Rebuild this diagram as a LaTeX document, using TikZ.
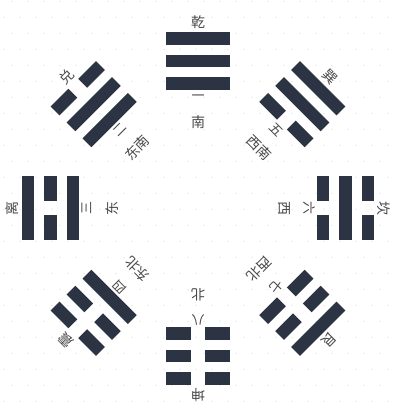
\documentclass[tikz,border=0pt]{standalone}
\usepackage{fontspec}
\newfontfamily\cjk{Noto Sans CJK SC}
\usetikzlibrary{positioning}
\definecolor{barcol}{RGB}{44,52,68}
\definecolor{inkcol}{RGB}{72,72,74}

% one trigram: id, angle, name, number, direction, inner/middle/outer line (1 yang, 0 yin)
\newcommand{\trigram}[8]{%
  \begin{scope}[rotate={#2-90}, transform shape]
    \node[gua] (#1) at (0,186) {#3};
    \node[num] (#1num) at (0,111) {#4};
    \node[dir] (#1dir) at (0,86) {#5};
    \foreach \yy/\rr in {#6/125,#7/147.5,#8/170}{
      \ifnum\yy=1
        \fill[bar] (-32,\rr-6.25) rectangle (32,\rr+6.25);
      \else
        \fill[bar] (-32,\rr-6.25) rectangle (-7,\rr+6.25);
        \fill[bar] (7,\rr-6.25) rectangle (32,\rr+6.25);
      \fi
    }
  \end{scope}}

\begin{document}
\begin{tikzpicture}[x=1pt, y=1pt,
    bar/.style={fill=barcol},
    gua/.style={text=inkcol, inner sep=0pt, font=\cjk\fontsize{14}{14}\selectfont},
    num/.style={text=inkcol, inner sep=0pt, font=\cjk\fontsize{13}{13}\selectfont},
    dir/.style={text=inkcol, inner sep=0pt, font=\cjk\fontsize{14}{14}\selectfont},
    grain/.style={fill=black!13}
]
\useasboundingbox (-198,-197.5) rectangle (195,208.5);
\fill[white] (-198,-197.5) rectangle (195,208.5);
\foreach \i in {0,...,24}
  \foreach \j in {0,...,25}
    \fill[grain] ({-194+16*\i+8*mod(\j,2)},{-193+16*\j}) circle (0.6);

\trigram{qian}{90}{乾}{一}{南}{1}{1}{1}
\trigram{dui}{135}{兑}{二}{东南}{1}{1}{0}
\trigram{li}{180}{离}{三}{东}{1}{0}{1}
\trigram{zhen}{225}{震}{四}{东北}{1}{0}{0}
\trigram{xun}{45}{巽}{五}{西南}{0}{1}{1}
\trigram{kan}{0}{坎}{六}{西}{0}{1}{0}
\trigram{gen}{-45}{艮}{七}{西北}{0}{0}{1}
\trigram{kun}{-90}{坤}{八}{北}{0}{0}{0}

\end{tikzpicture}
\end{document}
